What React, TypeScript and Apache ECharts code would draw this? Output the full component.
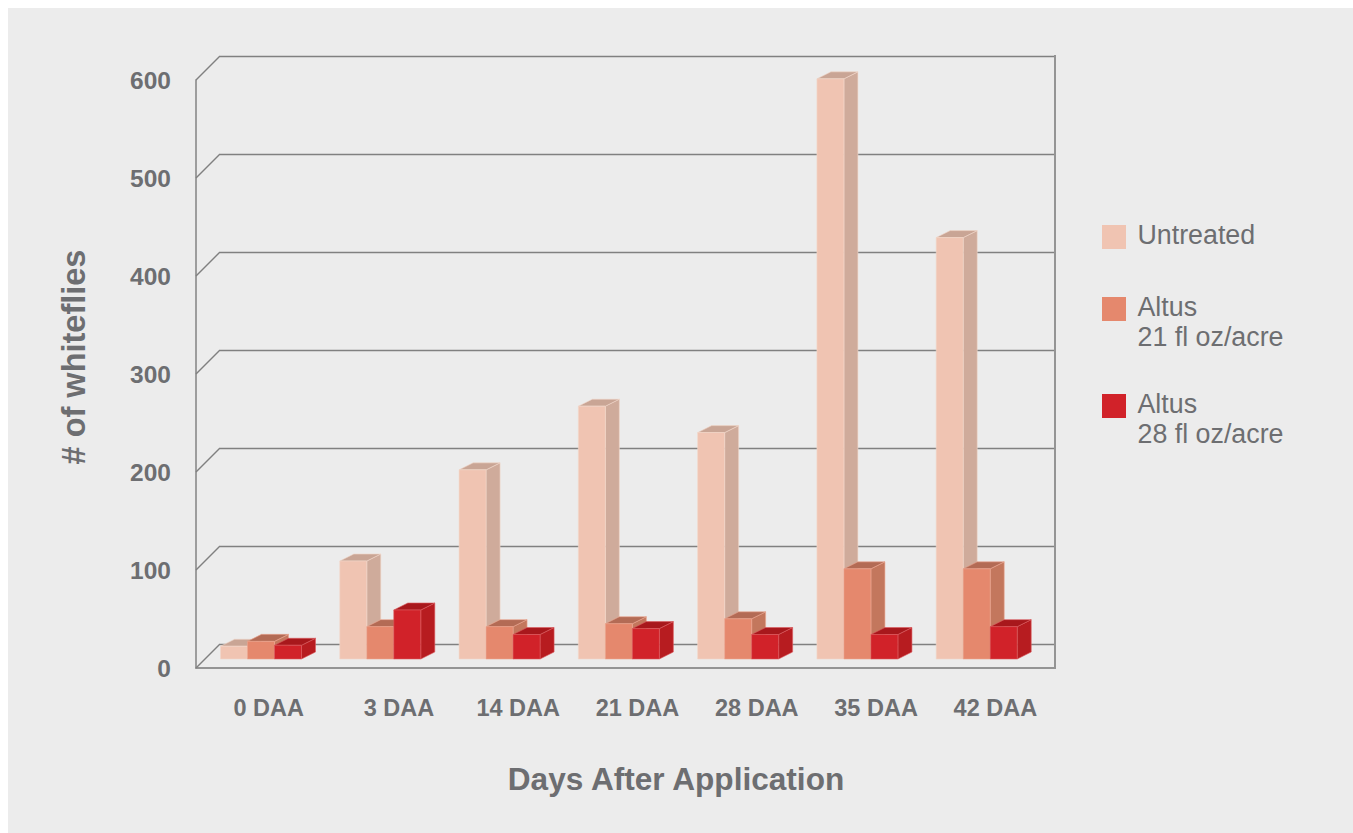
import React, { useEffect, useRef } from "react";
import * as echarts from "echarts";

const categories = ["0 DAA", "3 DAA", "14 DAA", "21 DAA", "28 DAA", "35 DAA", "42 DAA"];
const untreated = [13, 100, 193, 258, 231, 592, 430];
const altus21 = [18, 33, 33, 36, 41, 92, 92];
const altus28 = [14, 50, 25, 31, 25, 25, 33];
const yTicks = [0, 100, 200, 300, 400, 500, 600];
const legendNames = ["Untreated", "Altus\n21 fl oz/acre", "Altus\n28 fl oz/acre"];

const FONT = '"Liberation Sans", Arial, sans-serif';
const TXT = "#6d6e71";
const BAR_W = 27;
const DX = 14;
const DY = 7;
const PLANE_OFFSET = 15;

const palettes = [
  { front: "#f0c4b2", side: "#cfab9b", top: "#c9a595", edge: "#f2d6ca" },
  { front: "#e5886d", side: "#c3775d", top: "#b36b55", edge: "#eba48e" },
  { front: "#d12229", side: "#b71c20", top: "#a8181c", edge: "#dc5a5e" },
];

function barSeries(name: string, values: number[], idx: number) {
  const c = palettes[idx];
  return {
    type: "custom",
    name,
    xAxisIndex: 0,
    yAxisIndex: 0,
    z: 5 + idx,
    silent: true,
    data: values.map((v, i) => [i, v]),
    renderItem: (_p: any, api: any) => {
      const cat = api.value(0);
      const val = api.value(1);
      const band = api.size([1, 0])[0];
      const top = api.coord([cat, val]);
      const base = api.coord([cat, 0]);
      const x0 = top[0] - band / 2 + idx * BAR_W + 0.5;
      const x1 = x0 + BAR_W;
      const yT = top[1] + PLANE_OFFSET;
      const yB = base[1] + PLANE_OFFSET;
      const edge = { stroke: c.edge, lineWidth: 0.6 };
      return {
        type: "group",
        children: [
          {
            type: "polygon",
            shape: { points: [[x1, yT], [x1 + DX, yT - DY], [x1 + DX, yB - DY], [x1, yB]] },
            style: { fill: c.side, ...edge },
          },
          {
            type: "polygon",
            shape: { points: [[x0, yT], [x0 + DX, yT - DY], [x1 + DX, yT - DY], [x1, yT]] },
            style: { fill: c.top, ...edge },
          },
          {
            type: "rect",
            shape: { x: x0, y: yT, width: BAR_W, height: yB - yT },
            style: { fill: c.front, ...edge },
          },
        ],
      };
    },
  };
}

const legendTops = [220, 292, 389];
const swatchTops = [225, 297, 394];

export default function App() {
  const ref = useRef<HTMLDivElement>(null);
  useEffect(() => {
    const chart = echarts.init(ref.current!, null, { renderer: "svg" });
    const axisText = { color: TXT, fontFamily: FONT, fontWeight: "bold" as const };
    chart.setOption({
      animation: false,
      backgroundColor: "transparent",
      grid: [
        { left: 220, top: 56, width: 835, height: 588 },
        { left: 196, top: 80, width: 859, height: 588 },
      ],
      xAxis: [
        {
          gridIndex: 0,
          type: "category",
          data: categories.map((c, i) =>
            i === 0 ? { value: c, textStyle: { padding: [0, 22, 0, 0] } } : c
          ),
          axisLine: { show: false },
          axisTick: { show: false },
          splitLine: { show: false },
          axisLabel: { ...axisText, fontSize: 23.5, margin: 52, interval: 0 },
        },
        {
          gridIndex: 1,
          type: "category",
          data: categories,
          name: "Days After Application",
          nameLocation: "middle",
          nameGap: 95,
          nameTextStyle: {
            color: TXT,
            fontFamily: FONT,
            fontWeight: "bold",
            fontSize: 31.6,
            padding: [0, 0, 0, 101],
          },
          axisLine: { show: true, lineStyle: { color: "#949494", width: 2 } },
          axisTick: { show: false },
          axisLabel: { show: false },
          splitLine: { show: false },
        },
      ],
      yAxis: [
        {
          gridIndex: 0,
          type: "value",
          min: 0,
          max: 600,
          interval: 100,
          axisLine: { show: false },
          axisTick: { show: false },
          axisLabel: { show: false },
          splitLine: { show: true, lineStyle: { color: "#808080", width: 1.4 } },
        },
        {
          gridIndex: 1,
          type: "value",
          min: 0,
          max: 600,
          interval: 100,
          name: "# of whiteflies",
          nameLocation: "middle",
          nameRotate: 90,
          nameGap: 106,
          nameTextStyle: {
            color: TXT,
            fontFamily: FONT,
            fontWeight: "bold",
            fontSize: 32.5,
            padding: [0, 0, 0, 34],
          },
          axisLine: { show: true, lineStyle: { color: "#8a8a8a", width: 1.6 } },
          axisTick: { show: false },
          axisLabel: { ...axisText, fontSize: 24.5, margin: 25 },
          splitLine: { show: false },
        },
      ],
      series: [
        {
          type: "custom",
          name: "walls",
          xAxisIndex: 1,
          yAxisIndex: 1,
          z: 1,
          silent: true,
          data: yTicks.map((v) => [0, v]),
          renderItem: (p: any, api: any) => {
            const y = api.coord([0, api.value(1)])[1];
            const x = p.coordSys.x;
            const right = x + p.coordSys.width;
            const children: any[] = [
              {
                type: "line",
                shape: { x1: x, y1: y, x2: x + 24, y2: y - 24 },
                style: { stroke: "#808080", lineWidth: 1.4 },
              },
            ];
            if (api.value(1) === 0) {
              children.push({
                type: "line",
                shape: { x1: right, y1: y + 1, x2: right, y2: p.coordSys.y - 25 },
                style: { stroke: "#949494", lineWidth: 2 },
              });
            }
            return { type: "group", children };
          },
        },
        barSeries(legendNames[0], untreated, 0),
        barSeries(legendNames[1], altus21, 1),
        barSeries(legendNames[2], altus28, 2),
      ],
      graphic: legendNames.flatMap((name, i) => [
        {
          type: "rect",
          shape: { x: 1102, y: swatchTops[i], width: 24, height: 24 },
          style: { fill: palettes[i].front },
        },
        {
          type: "text",
          x: 1137.5,
          y: legendTops[i],
          style: {
            text: name,
            fill: TXT,
            fontFamily: FONT,
            fontSize: 26.8,
            lineHeight: 30,
          },
        },
      ]),
    });
    return () => chart.dispose();
  }, []);
  return (
    <div style={{ position: "fixed", left: 0, top: 0, width: 1353, height: 833, background: "#fff", overflow: "hidden" }}>
      <div style={{ position: "absolute", left: 8, top: 8, width: 1345, height: 825, background: "#ececec" }} />
      <div ref={ref} style={{ position: "absolute", left: 0, top: 0, width: 1353, height: 833 }} />
    </div>
  );
}
